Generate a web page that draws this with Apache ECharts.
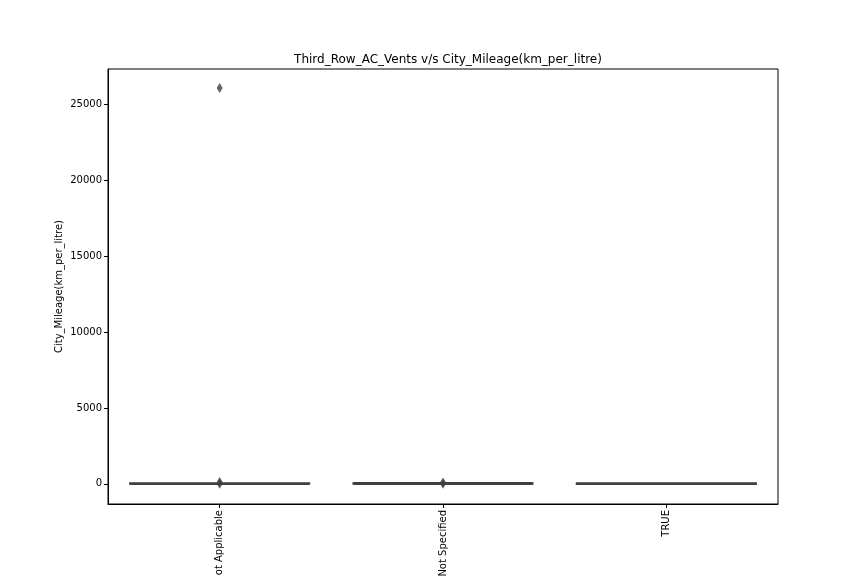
<!DOCTYPE html>
<html><head><meta charset="utf-8">
<script src="https://cdn.jsdelivr.net/npm/echarts@6/dist/echarts.min.js"></script>
<style>html,body{margin:0;padding:0;background:#fff}#c{width:864px;height:576px}</style>
</head><body><div id="c"></div>
<script>
const categories = ['Not Applicable', 'Not Specified', 'TRUE'];
// [min, Q1, median, Q3, max]
const boxStats = [
  [8, 13, 16, 19, 27],
  [9, 14, 17, 20, 29],
  [7, 11, 14, 17, 24]
];
const outliers = [
  ['Not Applicable', 26080],
  ['Not Applicable', 120],
  ['Not Applicable', 2],
  ['Not Specified', 90],
  ['Not Specified', 1]
];
const yTicks = [0, 5000, 10000, 15000, 20000, 25000];
const boxColors = ['#3274a1', '#e1812c', '#3a923a'];

const chart = echarts.init(document.getElementById('c'), null, {renderer: 'canvas'});
const font = 'DejaVu Sans';
chart.setOption({
  animation: false,
  backgroundColor: '#fff',
  title: {
    text: 'Third_Row_AC_Vents v/s City_Mileage(km_per_litre)',
    left: 443, top: 49, textAlign: 'center',
    textStyle: {fontFamily: font, fontSize: 12, fontWeight: 'normal', color: '#000'}
  },
  grid: {left: 108, right: 86, top: 69, bottom: 72, show: true, borderColor: '#000', borderWidth: 1, backgroundColor: 'transparent', outerBoundsMode: 'none', containLabel: false},
  xAxis: {
    type: 'category', data: categories,
    axisLine: {show: true, onZero: false, lineStyle: {color: '#000', width: 1}},
    axisTick: {show: true, alignWithLabel: true, length: 4, lineStyle: {color: '#000'}},
    axisLabel: {rotate: 90, fontFamily: font, fontSize: 10, color: '#000', margin: 6},
    splitLine: {show: false}
  },
  yAxis: {
    type: 'value', min: -1330, max: 27330,
    name: 'City_Mileage(km_per_litre)', nameLocation: 'middle', nameGap: 44, nameMoveOverlap: false,
    nameTextStyle: {fontFamily: font, fontSize: 10, color: '#000'},
    axisLine: {show: true, lineStyle: {color: '#000', width: 1}},
    axisTick: {show: true, length: 4, customValues: yTicks, lineStyle: {color: '#000'}},
    axisLabel: {fontFamily: font, fontSize: 10, color: '#000', margin: 6, customValues: yTicks, formatter: v => String(v)},
    splitLine: {show: false}
  },
  series: [
    {
      type: 'boxplot',
      boxWidth: ['80%', '80%'],
      data: boxStats.map((d, i) => ({value: d, itemStyle: {color: boxColors[i], borderColor: '#3f3f3f', borderWidth: 2.5}})),
      itemStyle: {borderColor: '#3f3f3f', borderWidth: 2.5}
    },
    {
      type: 'scatter',
      symbol: 'diamond',
      symbolSize: [6, 10],
      itemStyle: {color: '#3d3d3d'},
      data: outliers
    }
  ]
});
</script></body></html>
